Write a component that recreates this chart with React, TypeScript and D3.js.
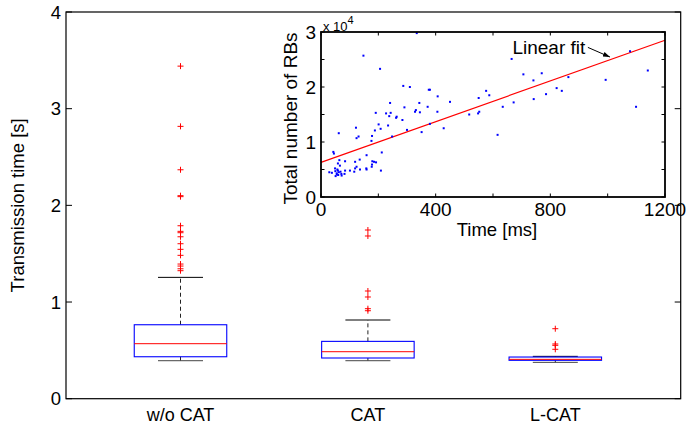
import React from 'react';
import * as d3 from 'd3';

// main box plot data (transmission time, s)
const categories = ['w/o CAT', 'CAT', 'L-CAT'];
const whiskerLow = [0.393, 0.393, 0.376];
const q1 = [0.434, 0.421, 0.397];
const median = [0.569, 0.486, 0.407];
const q3 = [0.765, 0.593, 0.431];
const whiskerHigh = [1.255, 0.814, 0.438];
const outliersWoCat = [3.44, 2.817, 2.368, 2.1, 2.09, 1.789, 1.731, 1.717, 1.675, 1.603, 1.545, 1.483, 1.393, 1.372, 1.344, 1.324];
const outliersCat = [1.745, 1.683, 1.114, 1.052, 0.931, 0.91];
const outliersLCat = [0.724, 0.566, 0.552, 0.511];
const outliers = [outliersWoCat, outliersCat, outliersLCat];
const mainTicks = [0, 1, 2, 3, 4];

// inset scatter: time [ms] vs total number of RBs
const times = [148, 206, 334, 287, 310, 376, 380, 407, 450, 241, 343, 191, 227, 243, 238, 291, 331, 328, 345, 372,
  406, 264, 262, 284, 201, 234, 208, 188, 178, 176, 122, 131, 124, 62, 248, 300, 351, 380, 428, 43,
  45, 212, 159, 64, 59, 84, 119, 179, 185, 192, 178, 66, 49, 29, 38, 50, 55, 59, 62, 51,
  55, 71, 82, 84, 101, 116, 119, 124, 136, 158, 159, 135, 177, 209, 517, 548, 552, 550, 576, 587,
  616, 634, 665, 672, 706, 741, 742, 770, 785, 822, 840, 863, 993, 1078, 1099, 1140, 60, 68, 72, 57];
const rbs = [25700, 23300, 29800, 20200, 20000, 19500, 19500, 18300, 17300, 17100, 17100, 15300, 15200, 15300, 14700, 16300, 15800, 15500, 15400, 16400,
  15500, 14600, 14400, 14000, 13200, 13000, 12400, 12100, 11100, 10200, 12600, 11000, 10700, 11600, 11000, 12200, 11800, 13300, 12500, 8200,
  7900, 8100, 7600, 6700, 6100, 6500, 6400, 6500, 6400, 6300, 5900, 5700, 5200, 4500, 4400, 4700, 4300, 4800, 4500, 3800,
  4100, 4200, 4200, 4800, 4800, 4600, 5200, 5500, 5000, 5200, 5000, 6800, 5500, 4800, 15000, 15200, 15500, 18000, 19300, 18500,
  11300, 16400, 25100, 17200, 22300, 21200, 17800, 22500, 18700, 19800, 19300, 21800, 21300, 26500, 16400, 23000, 4000, 4600, 3900, 5000];
const fitTimes = [0, 1200];
const fitRbs = [6300, 28500];
const insetXTicks = [0, 200, 400, 600, 800, 1000, 1200];
const insetXLabels = [0, 400, 800, 1200];
const insetYTicks = [0, 5000, 10000, 15000, 20000, 25000, 30000];
const insetYLabels = [0, 10000, 20000, 30000];

const font = 'Liberation Sans, Arial, Helvetica, sans-serif';

const App = () => {
  const W = 691;
  const H = 425;
  const left = 66, right = 680.7, top = 12, bottom = 398.7;

  const y = d3.scaleLinear().domain([0, 4]).range([bottom, top]);
  const x = d3.scalePoint<string>().domain(categories).range([180.5, 555.3]);
  const boxW = 92.5;
  const capW = 45;

  // inset scales
  const ix = d3.scaleLinear().domain([0, 1200]).range([321, 665]);
  const iy = d3.scaleLinear().domain([0, 30000]).range([197, 32]);
  const fitLine = d3.line<number>().x((d, i) => ix(fitTimes[i])).y(d => iy(d));

  const plus = (cx: number, cy: number, key: string) => (
    <path key={key} d={`M${cx - 3},${cy}H${cx + 3}M${cx},${cy - 3}V${cy + 3}`} stroke="#ff0000" strokeWidth={1} />
  );

  return (
    <svg width={W} height={H} style={{ position: 'absolute', left: 0, top: 0, background: '#fff' }} fontFamily={font}>
      <rect x={0} y={0} width={W} height={H} fill="#fff" />

      {/* main axes box */}
      <rect x={left} y={top} width={right - left} height={bottom - top} fill="#fff" stroke="#000" strokeWidth={1.2} />
      {mainTicks.map(t => (
        <g key={t}>
          <line x1={left} x2={left + 6} y1={y(t)} y2={y(t)} stroke="#000" />
          <line x1={right - 6} x2={right} y1={y(t)} y2={y(t)} stroke="#000" />
          <text x={left - 5} y={y(t)} dy="0.36em" textAnchor="end" fontSize={18.5}>{t}</text>
        </g>
      ))}
      <text transform={`translate(24,${(top + bottom) / 2}) rotate(-90)`} textAnchor="middle" fontSize={18.5}>Transmission time [s]</text>

      {/* boxes */}
      {categories.map((c, i) => {
        const cx = x(c) as number;
        return (
          <g key={c}>
            <line x1={cx} x2={cx} y1={y(q3[i])} y2={y(whiskerHigh[i])} stroke="#222" strokeDasharray="4,3" />
            <line x1={cx} x2={cx} y1={y(q1[i])} y2={y(whiskerLow[i])} stroke="#222" strokeDasharray="4,3" />
            <line x1={cx - capW / 2} x2={cx + capW / 2} y1={y(whiskerHigh[i])} y2={y(whiskerHigh[i])} stroke="#000" />
            <line x1={cx - capW / 2} x2={cx + capW / 2} y1={y(whiskerLow[i])} y2={y(whiskerLow[i])} stroke="#444" />
            <rect x={cx - boxW / 2} y={y(q3[i])} width={boxW} height={y(q1[i]) - y(q3[i])} fill="none" stroke="#0000ff" strokeWidth={1.1} />
            <line x1={cx - boxW / 2} x2={cx + boxW / 2} y1={y(median[i])} y2={y(median[i])} stroke="#ff0000" />
            {outliers[i].map((v, j) => plus(cx, y(v), `${c}-${j}`))}
            <text x={cx} y={bottom + 22} textAnchor="middle" fontSize={18}>{c}</text>
          </g>
        );
      })}

      {/* inset */}
      <g>
        <path d={fitLine(fitRbs) || ''} stroke="#ff0000" strokeWidth={1.2} fill="none" />
        {times.map((t, i) => (
          <rect key={i} x={ix(t) - 1} y={iy(rbs[i]) - 1} width={2} height={2} fill="#0000ff" />
        ))}
        <rect x={ix(0)} y={iy(30000)} width={ix(1200) - ix(0)} height={iy(0) - iy(30000)} fill="none" stroke="#000" strokeWidth={1.8} />
        {insetXTicks.map(t => (
          <g key={t}>
            <line x1={ix(t)} x2={ix(t)} y1={iy(0)} y2={iy(0) - 3.5} stroke="#000" />
            <line x1={ix(t)} x2={ix(t)} y1={iy(30000)} y2={iy(30000) + 3.5} stroke="#000" />
          </g>
        ))}
        {insetYTicks.map(t => (
          <g key={t}>
            <line x1={ix(0)} x2={ix(0) + 3.5} y1={iy(t)} y2={iy(t)} stroke="#000" />
            <line x1={ix(1200)} x2={ix(1200) - 3.5} y1={iy(t)} y2={iy(t)} stroke="#000" />
          </g>
        ))}
        {insetXLabels.map(t => (
          <text key={t} x={ix(t)} y={iy(0) + 19} textAnchor="middle" fontSize={19}>{t}</text>
        ))}
        {insetYLabels.map(t => (
          <text key={t} x={ix(0) - 5} y={iy(t)} dy="0.36em" textAnchor="end" fontSize={19}>{t / 10000}</text>
        ))}
        <text x={ix(0) + 2} y={iy(30000) - 1} fontSize={13}>x 10<tspan dy={-7} fontSize={11}>4</tspan></text>
        <text x={(ix(0) + ix(1200)) / 2 + 4} y={iy(0) + 39} textAnchor="middle" fontSize={18.5}>Time [ms]</text>
        <text transform={`translate(297,${(iy(0) + iy(30000)) / 2 + 4}) rotate(-90)`} textAnchor="middle" fontSize={19}>Total number of RBs</text>

        {/* annotation */}
        <defs>
          <marker id="arr" viewBox="0 0 10 10" refX={10} refY={5} markerWidth={7} markerHeight={7} orient="auto">
            <path d="M0,1.5L10,5L0,8.5Z" fill="#000" />
          </marker>
        </defs>
        <text x={ix(922)} y={iy(27200)} dy="0.36em" textAnchor="end" fontSize={19}>Linear fit</text>
        <line x1={ix(931)} y1={iy(27200)} x2={ix(1008)} y2={iy(25450)} stroke="#000" markerEnd="url(#arr)" />
      </g>
    </svg>
  );
};

export default App;
